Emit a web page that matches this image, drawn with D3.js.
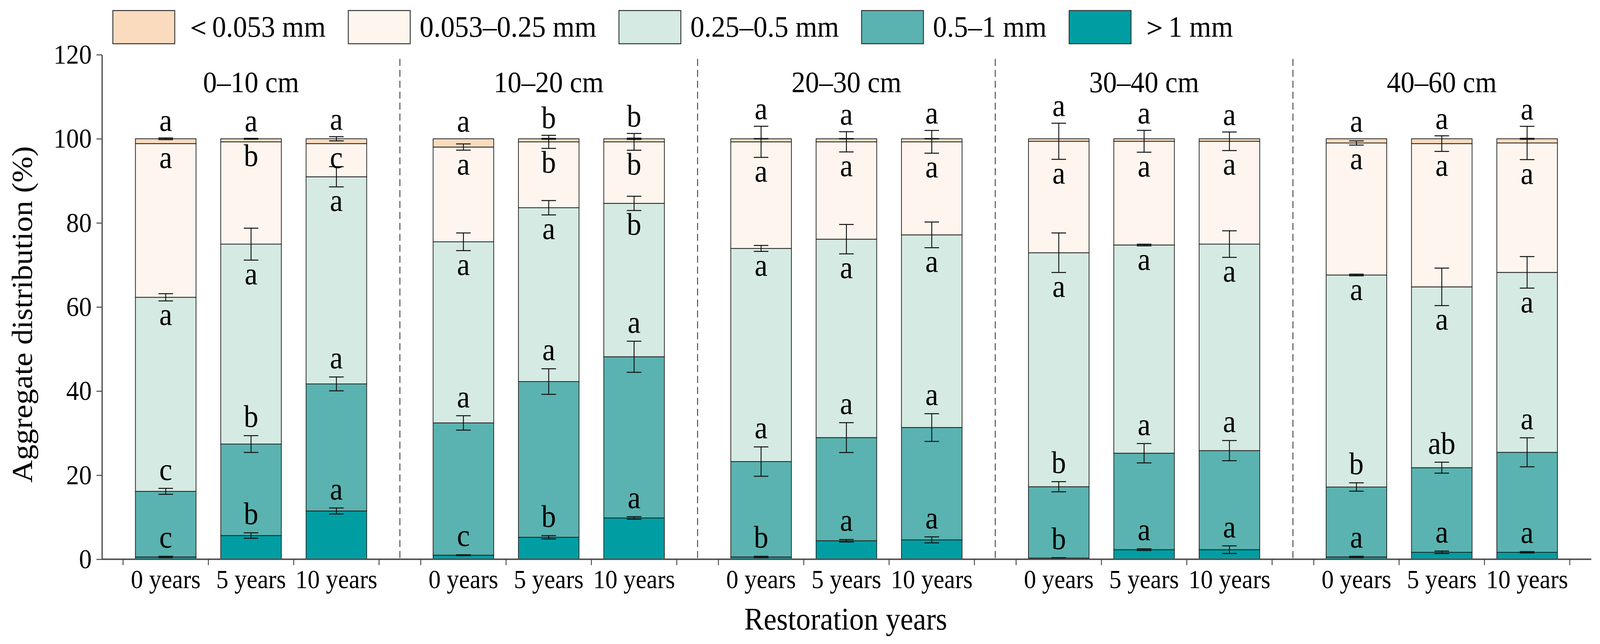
<!DOCTYPE html>
<html>
<head>
<meta charset="utf-8">
<script src="https://cdn.jsdelivr.net/npm/d3@7/dist/d3.min.js"></script>
<style>
  html, body { margin: 0; padding: 0; background: #fff; overflow: hidden; }
  svg { display: block; width: 100vw; height: 100vh; }
  text { font-family: "Liberation Serif", "Times New Roman", serif; fill: #000; }
</style>
</head>
<body>
<svg id="chart"></svg>
<script>
'use strict'

var depths = ['0–10 cm', '10–20 cm', '20–30 cm', '30–40 cm', '40–60 cm'];
var years = ['0 years', '5 years', '10 years'];

// stacking order, bottom to top
var keys = ['gt1', 's05', 's025', 's0053', 'lt0053'];
var colors = ['#009ea3', '#5ab3b0', '#d5eae2', '#fef6ee', '#fadbbd'];
// legend order (left to right) is the reverse
var legendLabels = ['＜0.053 mm', '0.053–0.25 mm', '0.25–0.5 mm', '0.5–1 mm', '＞1 mm'];

// percent of each size class; 15 bars = depth by depth, 0 / 5 / 10 years
var gt1    = [0.55, 5.64, 11.48,  0.97, 5.23, 9.83,  0.55, 4.40, 4.61,  0.28, 2.28, 2.28,  0.55, 1.66, 1.66];
var s05    = [15.60, 21.76, 30.22,  31.46, 37.03, 38.33,  22.68, 24.53, 26.72,  16.97, 22.94, 23.56,  16.63, 20.12, 23.77];
var s025   = [46.15, 47.55, 49.26,  43.07, 41.34, 36.48,  50.69, 47.19, 45.82,  55.64, 49.52, 49.11,  50.42, 43.00, 42.79];
var s0053  = [36.55, 24.32, 7.89,  22.53, 15.67, 14.63,  25.35, 23.15, 22.12,  26.51, 24.66, 24.45,  31.40, 34.07, 30.78];
var lt0053 = [1.15, 0.73, 1.15,  1.97, 0.73, 0.73,  0.73, 0.73, 0.73,  0.60, 0.60, 0.60,  1.00, 1.15, 1.00];

// standard errors, same order
var seGt1    = [0.15, 0.65, 0.7,  0.1, 0.4, 0.3,  0.15, 0.3, 0.7,  0.1, 0.2, 0.9,  0.15, 0.3, 0.15];
var seS05    = [0.7, 2.0, 1.65,  1.7, 3.05, 3.7,  3.5, 3.55, 3.3,  1.2, 2.3, 2.4,  1.0, 1.3, 3.45];
var seS025   = [0.85, 3.8, 2.4,  2.1, 1.7, 1.7,  0.7, 3.5, 3.05,  4.7, 0.2, 3.15,  0.2, 4.45, 3.75];
var seS0053  = [0, 0, 0,  0.75, 1.55, 2.0,  3.7, 2.4, 2.7,  4.3, 2.6, 2.2,  0.5, 1.85, 3.95];
var seLt0053 = [0.2, 0.1, 0.5,  0, 0.1, 0.15,  0.05, 0.05, 0.05,  0, 0, 0,  0, 0, 0.1];

// significance letters, same order
var lettersGt1    = ['c','b','a', 'c','b','a', 'b','a','a', 'b','a','a', 'a','a','a'];
var lettersS05    = ['c','b','a', 'a','a','a', 'a','a','a', 'b','a','a', 'b','ab','a'];
var lettersS025   = ['a','a','a', 'a','a','b', 'a','a','a', 'a','a','a', 'a','a','a'];
var lettersS0053  = ['a','b','c', 'a','b','b', 'a','a','a', 'a','a','a', 'a','a','a'];
var lettersLt0053 = ['a','a','a', 'a','b','b', 'a','a','a', 'a','a','a', 'a','a','a'];

var values = [gt1, s05, s025, s0053, lt0053];
var ses = [seGt1, seS05, seS025, seS0053, seLt0053];
var letters = [lettersGt1, lettersS05, lettersS025, lettersS0053, lettersLt0053];

var table = [];
depths.forEach(function(dep, i) {
  years.forEach(function(yr, j) {
    var k = i * 3 + j, row = {depth: dep, year: yr, idx: k};
    keys.forEach(function(key, s) { row[key] = values[s][k]; });
    table.push(row);
  });
});

// drawn in a 4395x1649 frame, stretched to whatever the window really is
var W = 4395, H = 1649;
var svg = d3.select('#chart').attr('viewBox', '0 0 ' + W + ' ' + H)
    .attr('preserveAspectRatio', 'none');

var y = d3.scaleLinear().domain([0, 120]).range([1432, 140]);
var outer = d3.scaleBand().domain(depths).range([338, 4312]).paddingInner(0.14).paddingOuter(0);
var inner = d3.scaleBand().domain(years).range([0, outer.bandwidth()]);
var barW = inner.bandwidth() * 0.71;
function cx(d) { return outer(d.depth) + inner(d.year) + inner.bandwidth() / 2; }

var series = d3.stack().keys(keys)(table);

// dashed separators between depth panels
var gap = outer.step() - outer.bandwidth();
svg.selectAll('line.sep').data(depths.slice(0, -1)).enter().append('line')
    .attr('class', 'sep')
    .attr('x1', function(d) { return outer(d) + outer.bandwidth() + gap / 2; })
    .attr('x2', function(d) { return outer(d) + outer.bandwidth() + gap / 2; })
    .attr('y1', y(119)).attr('y2', y(0))
    .attr('stroke', '#444').attr('stroke-width', 2.5).attr('stroke-dasharray', '18,10');

// stacked bars
var layer = svg.selectAll('g.layer').data(series).enter().append('g')
    .attr('class', 'layer')
    .attr('fill', function(d, i) { return colors[i]; });
layer.selectAll('rect').data(function(d) { return d; }).enter().append('rect')
    .attr('x', function(d) { return cx(d.data) - barW / 2; })
    .attr('y', function(d) { return y(d[1]); })
    .attr('width', barW)
    .attr('height', function(d) { return y(d[0]) - y(d[1]); })
    .attr('stroke', '#222').attr('stroke-width', 2);

// error bars at the top of each segment
var errs = [];
series.forEach(function(s, i) {
  s.forEach(function(d) {
    var se = ses[i][d.data.idx];
    if (se > 0) errs.push({x: cx(d.data), top: d[1], se: se});
  });
});
var eg = svg.append('g').attr('stroke', '#111').attr('stroke-width', 2.5);
var capW = 40;
errs.forEach(function(e) {
  eg.append('line').attr('x1', e.x).attr('x2', e.x)
      .attr('y1', y(e.top + e.se)).attr('y2', y(e.top - e.se));
  [e.top + e.se, e.top - e.se].forEach(function(v) {
    eg.append('line').attr('x1', e.x - capW / 2).attr('x2', e.x + capW / 2)
        .attr('y1', y(v)).attr('y2', y(v));
  });
});

// significance letters
var lg = svg.append('g').attr('font-size', 80).attr('text-anchor', 'middle');
table.forEach(function(row, k) {
  var x = cx(row);
  series.forEach(function(s, i) {
    var d = s[k], se = ses[i][k], by;
    if (i < 2) by = y(d[1] + se) - 22;
    else if (i < 4) by = y(d[1] - se) + 62;
    else by = Math.min(y(d[1] + se), y(series[3][k][1] + ses[3][k])) - 18;
    lg.append('text').attr('x', x).attr('y', by).text(letters[i][k]);
  });
});

// y axis
var yAxis = svg.append('g').attr('transform', 'translate(280,0)')
    .call(d3.axisLeft(y).tickValues([0, 20, 40, 60, 80, 100, 120])
        .tickSize(15).tickPadding(13).tickSizeOuter(0));
yAxis.attr('font-family', null).attr('font-size', 70);
yAxis.select('.domain').attr('stroke', '#111').attr('stroke-width', 2.5);
yAxis.selectAll('.tick line').attr('stroke', '#444').attr('stroke-width', 2.5);
yAxis.selectAll('.tick text').attr('fill', '#000');

// x axis: baseline, ticks at category boundaries, labels
svg.append('line').attr('x1', 280).attr('x2', 4371).attr('y1', y(0)).attr('y2', y(0))
    .attr('stroke', '#555').attr('stroke-width', 4);
var xt = [];
depths.forEach(function(dep) {
  for (var k = 0; k <= years.length; k++) xt.push(outer(dep) + k * inner.step());
});
svg.selectAll('line.xtick').data(xt).enter().append('line')
    .attr('class', 'xtick')
    .attr('x1', function(d) { return d; }).attr('x2', function(d) { return d; })
    .attr('y1', y(0)).attr('y2', y(0) + 15)
    .attr('stroke', '#444').attr('stroke-width', 2.5);
svg.append('g').attr('font-size', 67).attr('text-anchor', 'middle')
  .selectAll('text').data(table).enter().append('text')
    .attr('x', cx).attr('y', 1506)
    .text(function(d) { return d.year; });

// depth titles
svg.append('g').attr('font-size', 76).attr('text-anchor', 'middle')
  .selectAll('text').data(depths).enter().append('text')
    .attr('x', function(d) { return outer(d) + outer.bandwidth() / 2; })
    .attr('y', 236)
    .text(function(d) { return d; });

// axis titles
svg.append('text').attr('x', 2323).attr('y', 1612).attr('font-size', 80)
    .attr('text-anchor', 'middle').text('Restoration years');
svg.append('text').attr('transform', 'translate(88,805) rotate(-90)').attr('font-size', 80)
    .attr('text-anchor', 'middle').text('Aggregate distribution (%)');

// legend
var lx = 310;
legendLabels.forEach(function(lab, i) {
  svg.append('rect').attr('x', lx).attr('y', 27).attr('width', 170).attr('height', 85)
      .attr('fill', colors[colors.length - 1 - i]).attr('stroke', '#333').attr('stroke-width', 2.5);
  var t = svg.append('text').attr('x', lx + 196).attr('y', 94).attr('font-size', 77).text(lab);
  lx = lx + 196 + t.node().getComputedTextLength() + 62;
});
</script>
</body>
</html>
